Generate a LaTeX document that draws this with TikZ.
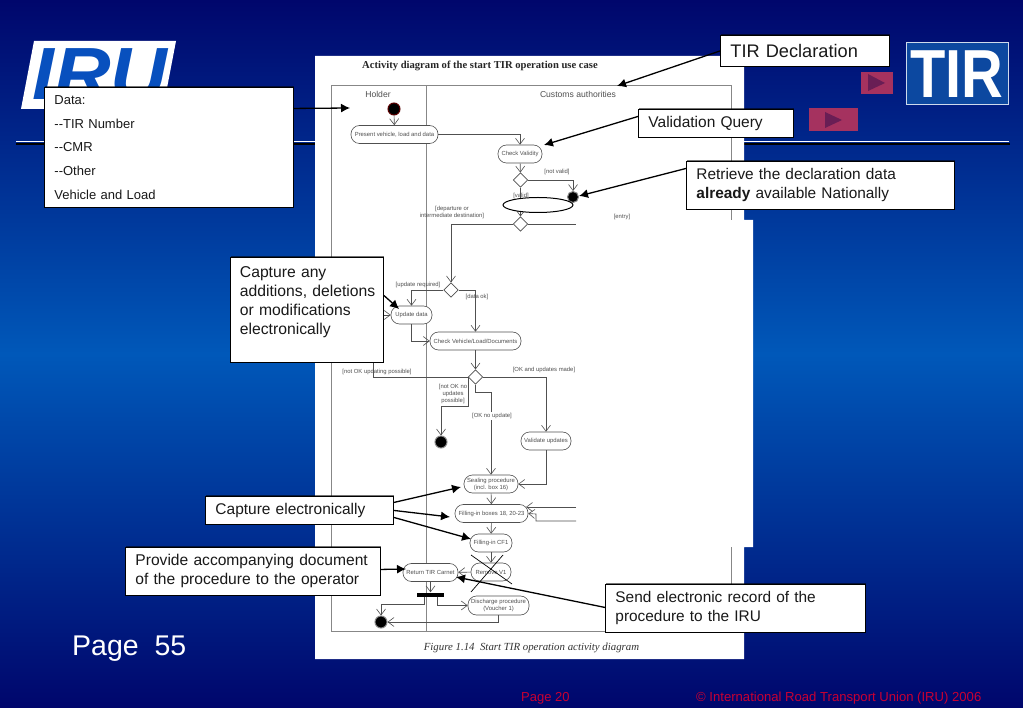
\documentclass[tikz,border=0pt]{standalone}
\usepackage{fontspec}
\setmainfont{Liberation Sans}
\newfontfamily\serifface{Liberation Serif}
\usetikzlibrary{arrows.meta,shapes.geometric,shadows}
\definecolor{bgedge}{RGB}{0,6,108}
\definecolor{bgmid}{RGB}{0,88,185}
\definecolor{irublue}{RGB}{8,80,190}
\definecolor{tirblue}{RGB}{12,72,160}
\definecolor{ink}{RGB}{80,80,80}
\definecolor{frameink}{RGB}{135,135,135}
\definecolor{playbox}{RGB}{165,50,95}
\definecolor{playtri}{RGB}{105,30,85}
\definecolor{footred}{RGB}{200,0,50}
\newcommand{\sz}[2]{\fontsize{#1}{#2}\selectfont}
\tikzset{
  callout/.style={draw=black,line width=.9,fill=white,anchor=north west,inner xsep=10,inner ysep=0,align=left,text=black!90,
    drop shadow={shadow xshift=1,shadow yshift=-1,opacity=.55,fill=black}},
  act/.style={draw=ink,line width=.6,fill=white,rounded corners=8.5,minimum height=18,inner sep=0,align=center,text=ink,font=\sz{5.9}{7}},
  dec/.style={draw=ink,line width=.6,fill=white,diamond,aspect=1,minimum width=14.5,minimum height=14.5,inner sep=0},
  endpt/.style={circle,fill=black,draw=frameink,line width=1,minimum size=12,inner sep=0},
  guard/.style={text=ink,font=\sz{5.9}{7},inner sep=0,align=center},
  flow/.style={draw=ink,line width=.6,-{Straight Barb[length=6,width=9]}},
  plain/.style={draw=ink,line width=.6},
  point/.style={draw=black,line width=1.3,-{Latex[length=9,width=9]}},
  lane/.style={draw=frameink,line width=1},
  lanehead/.style={text=ink,font=\sz{8.6}{10},inner sep=0}
}
\begin{document}
\begin{tikzpicture}[x=1pt,y=-1pt]
\useasboundingbox (0,0) rectangle (1023,708);
\shade[top color=bgedge,bottom color=bgedge,middle color=bgmid] (0,0) rectangle (1023,708);
% rule
\draw[black,line width=2] (16,144) -- (1010,144);
\draw[white,line width=1] (16,141.7) -- (1009,141.7);
% IRU logo
\fill[white] (34,41) -- (176,41) -- (163,109) -- (21,109) -- cycle;
\node[anchor=base west,inner sep=0,text=irublue,font=\sz{74}{74}\bfseries\itshape,xscale=1.06] (irulogo) at (32,100) {IRU};
% TIR logo
\node[draw=white!80!tirblue,line width=1,fill=tirblue,minimum width=102,minimum height=62,inner sep=0] (tirlogo) at (957,74) {};
\node[text=white,inner sep=0,font=\sz{68}{68}\bfseries,xscale=.85] (tirtext) at (957,74.5) {TIR};
% play buttons
\fill[playbox] (861,72) rectangle (893,94);
\fill[playtri] (868,74) -- (885,83) -- (868,91) -- cycle;
\fill[playbox] (809,108) rectangle (858,131);
\fill[playtri] (825,112) -- (842,120) -- (825,128) -- cycle;
% page
\fill[white] (315,56) -- (744,56) -- (744,220) -- (753,220) -- (753,547) -- (744,547) -- (744,659) -- (315,659) -- cycle;
\node[inner sep=0,anchor=base,font=\serifface\bfseries\sz{10.6}{12},text=black!85] (title) at (480,69) {Activity diagram of the start TIR operation use case};
\node[inner sep=0,anchor=base,font=\serifface\itshape\sz{10.85}{12},text=black!80] (caption) at (531.5,650) {Figure 1.14\ \ Start TIR operation activity diagram};
% lanes
\draw[lane] (731,220) -- (731,86) -- (331,86) -- (331,631) -- (731,631) -- (731,547);
\draw[lane] (426,86) -- (426,631);
\node[lanehead] (holder) at (378,94) {Holder};
\node[lanehead] (customs) at (578,94) {Customs authorities};
% coordinates
\coordinate (c1) at (373,315);
\coordinate (c2) at (441,406);
\coordinate (c3) at (491,392);
\coordinate (c4) at (576,507);
\coordinate (c4b) at (526,507);
\coordinate (c5) at (576,521);
\coordinate (c6) at (536,514);
\coordinate (c7) at (381,604);
\coordinate (c8) at (576,224);
% activity nodes
\node[endpt,draw={rgb,255:red,90;green,0;blue,0}] (start) at (394,109) {};
\node[act,minimum width=87] (present) at (394.5,134.5) {Present vehicle, load and data};
\node[act,minimum width=44] (check) at (520,154) {Check Validity};
\node[dec] (d1) at (520.5,180) {};
\node[endpt,minimum size=11] (final1) at (573,197) {};
\node[dec] (d2) at (520.5,224) {};
\node[dec] (d3) at (451,290) {};
\node[act,minimum width=41] (update) at (411.5,315) {Update data};
\node[act,minimum width=91] (checkv) at (475.5,341) {Check Vehicle/Load/Documents};
\node[dec] (d4) at (475.5,377) {};
\node[endpt] (final2) at (441,442) {};
\node[act,minimum width=50] (validate) at (546,441) {Validate updates};
\node[act,minimum width=54] (sealing) at (491,484) {Sealing procedure\\(incl. box 16)};
\node[act,minimum width=73] (filling) at (491.5,513.5) {Filling-in boxes 18, 20-23};
\node[act,minimum width=42] (cf1) at (491,543) {Filling-in CF1};
\node[act,minimum width=40] (removev) at (491,572) {Remove V1};
\node[act,minimum width=55] (return) at (430.5,572.5) {Return TIR Carnet};
\node[fill=black,minimum width=27,minimum height=4,inner sep=0] (bar) at (430.5,594.5) {};
\node[act,minimum width=61,minimum height=19] (discharge) at (498.5,605.5) {Discharge procedure\\(Voucher 1)};
\node[endpt] (final3) at (381,622) {};
% flows
\draw[flow] (start) -- (present);
\draw[flow] (present.east) -| (check.north);
\draw[flow] (check) -- (d1);
\draw[flow] (d1.east) -| (final1.north);
\draw[flow] (d1.south) -- (d2.north);
\draw[plain] (d2.east) -- (c8);
\draw[flow] (d2.west) -| (d3.north);
\draw[flow] (d3.west) -| (update.north);
\draw[flow] (d3.east) -| (checkv.north);
\draw[flow] (update.south) |- (checkv.west);
\draw[flow] (checkv) -- (d4);
\draw[flow] (d4.west) -| (c1) -- (update.west);
\draw[flow] (d4.east) -| (validate.north);
\draw[flow] (d4.west) |- (c2) -- (final2.north);
\draw[flow] (d4.south) |- (c3) -- (sealing.north);
\draw[flow] (validate.south) |- (sealing.east);
\draw[flow] (sealing) -- (filling);
\draw[flow] (c4) -- (c4b);
\draw[flow] (c5) -| (c6) -- (filling.east);
\draw[flow] (filling) -- (cf1);
\draw[flow] (cf1) -- (removev);
\draw[flow] (removev) -- (return);
\draw[flow] (return) -- (bar);
\draw[flow] ([xshift=-6.5]bar.south) |- (c7) -- (final3.north);
\draw[flow] ([xshift=6.5]bar.south) |- (discharge.west);
\draw[flow] (discharge.south) |- (final3.east);
% ellipse annotation
\node[ellipse,draw=black,line width=1,fill=white,minimum width=70,minimum height=15,inner sep=0] (oval) at (538,205) {};
% cross
\draw[black,line width=.7] (471,555) -- (512,584);
\draw[black,line width=.7] (503,555) -- (471,592);
% guards
\node[guard] (gnv) at (557,172) {[not valid]};
\node[guard] (gv) at (521,196) {[valid]};
\node[guard] (gdep) at (452,212) {[departure or\\intermediate destination]};
\node[guard] (gen) at (622,217) {[entry]};
\node[guard] (gur) at (418,285) {[update required]};
\node[guard] (gok) at (477,297) {[data ok]};
\node[guard] (gnup) at (377,372) {[not OK updating possible]};
\node[guard] (goum) at (544,370) {[OK and updates made]};
\node[guard] (gnnu) at (453,394) {[not OK no\\updates\\possible]};
\node[guard,fill=white,inner ysep=1] (gonu) at (492,416) {[OK no update]};
% callouts
\node[callout,minimum width=249,minimum height=120,text width=229,font=\sz{13}{23.7}] (cdata) at (44,87) {Data:\\-{}-TIR Number\\-{}-CMR\\-{}-Other\\Vehicle and Load};
\node[callout,minimum width=169,minimum height=31,text width=149,font=\sz{18.2}{21}] (cdecl) at (720,35) {TIR Declaration};
\node[callout,minimum width=155,minimum height=28,text width=135,font=\sz{15.5}{18}] (cquery) at (638,109) {Validation Query};
\node[callout,minimum width=268,minimum height=48,text width=248,font=\sz{15.4}{19}] (cretr) at (686,161) {Retrieve the declaration data\\\textbf{already} available Nationally};
\node[callout,minimum width=153.5,minimum height=105,text width=133.5,font=\sz{15.7}{19}] (cany) at (229.5,257) {Capture any\\\mbox{additions, deletions}\\or modifications\\electronically\\\mbox{}};
\node[callout,minimum width=188,minimum height=28,text width=168,font=\sz{15.5}{18}] (celec) at (205,496) {Capture electronically};
\node[callout,minimum width=255,minimum height=48,text width=235,font=\sz{15.6}{19}] (cprov) at (125,547) {\mbox{Provide accompanying document}\\of the procedure to the operator};
\node[callout,minimum width=260,minimum height=48,text width=240,font=\sz{15.4}{19}] (csend) at (605,584) {Send electronic record of the\\procedure to the IRU};
% pointers
\coordinate (p1) at (350,108);
\coordinate (p2) at (617,86);
\coordinate (p3) at (544,145);
\coordinate (p4) at (579,196);
\coordinate (p5) at (399,309);
\coordinate (p6) at (461,487);
\coordinate (p7) at (450,517);
\coordinate (p8) at (471,539);
\coordinate (p9) at (406,569);
\coordinate (p10) at (456,577);
\draw[point] ([yshift=39]cdata.east) -- (p1);
\draw[point] (cdecl.west) -- (p2);
\draw[point] ([yshift=7]cquery.west) -- (p3);
\draw[point] ([yshift=17]cretr.west) -- (p4);
\draw[point] ([yshift=14.5]cany.east) -- (p5);
\draw[point] ([yshift=8]celec.east) -- (p6);
\draw[point] (celec.east) -- (p7);
\draw[point] ([yshift=-7]celec.east) -- (p8);
\draw[point] ([yshift=2]cprov.east) -- (p9);
\draw[point] ([yshift=1]csend.west) -- (p10);
% page text
\node[anchor=base west,inner sep=0,text=white,font=\sz{28.5}{32}] (pg) at (72,655) {Page\ \ 55};
\node[anchor=base west,inner sep=0,text=footred,font=\sz{13}{15}] (pgf) at (521,701) {Page 20};
\node[anchor=base west,inner sep=0,text=footred,font=\sz{13.1}{15}] (copy) at (696,701) {© International Road Transport Union (IRU) 2006};
\end{tikzpicture}
\end{document}
